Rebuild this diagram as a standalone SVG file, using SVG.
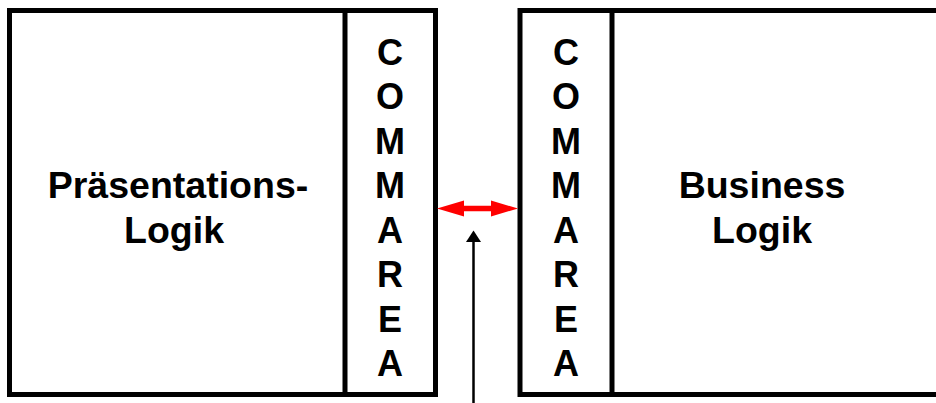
<svg xmlns="http://www.w3.org/2000/svg" width="936" height="403" viewBox="0 0 936 403">
<style>
.box{fill:none;stroke:#000;stroke-width:5}
.t{font-family:"Liberation Sans",Arial,sans-serif;font-weight:bold;font-size:36px;fill:#000;text-anchor:middle}
.l{font-size:37.5px}
</style>
<rect width="936" height="403" fill="#fff"/>
<g id="praesentation">
<rect class="box" x="9.5" y="10.5" width="426" height="384"/>
<line class="box" x1="345" y1="10.5" x2="345" y2="394.5"/>
<text class="t l" x="178" y="197.5">Präsentations-</text>
<text class="t l" x="174" y="242.5">Logik</text>
</g>
<g id="commarea-left">
<text class="t" x="390" y="64.5">C</text>
<text class="t" x="390" y="109">O</text>
<text class="t" x="390" y="153.5">M</text>
<text class="t" x="390" y="198">M</text>
<text class="t" x="390" y="242.5">A</text>
<text class="t" x="390" y="287">R</text>
<text class="t" x="390" y="331.5">E</text>
<text class="t" x="390" y="376">A</text>
</g>
<g id="business">
<rect class="box" x="520" y="10.5" width="430" height="384"/>
<line class="box" x1="612" y1="10.5" x2="612" y2="394.5"/>
<text class="t l" x="762" y="197.5">Business</text>
<text class="t l" x="762" y="242.5">Logik</text>
</g>
<g id="commarea-right">
<text class="t" x="566" y="64.5">C</text>
<text class="t" x="566" y="109">O</text>
<text class="t" x="566" y="153.5">M</text>
<text class="t" x="566" y="198">M</text>
<text class="t" x="566" y="242.5">A</text>
<text class="t" x="566" y="287">R</text>
<text class="t" x="566" y="331.5">E</text>
<text class="t" x="566" y="376">A</text>
</g>
<g id="connectors">
<line x1="460" y1="208.5" x2="495" y2="208.5" stroke="#f00" stroke-width="5.5"/>
<polygon points="437,208.5 464,200.5 464,216.5" fill="#f00"/>
<polygon points="518,208.5 491,200.5 491,216.5" fill="#f00"/>
<line x1="473.5" y1="240" x2="473.5" y2="403" stroke="#000" stroke-width="2.5"/>
<polygon points="473.5,230.5 466,242 481,242" fill="#000"/>
</g>
</svg>
